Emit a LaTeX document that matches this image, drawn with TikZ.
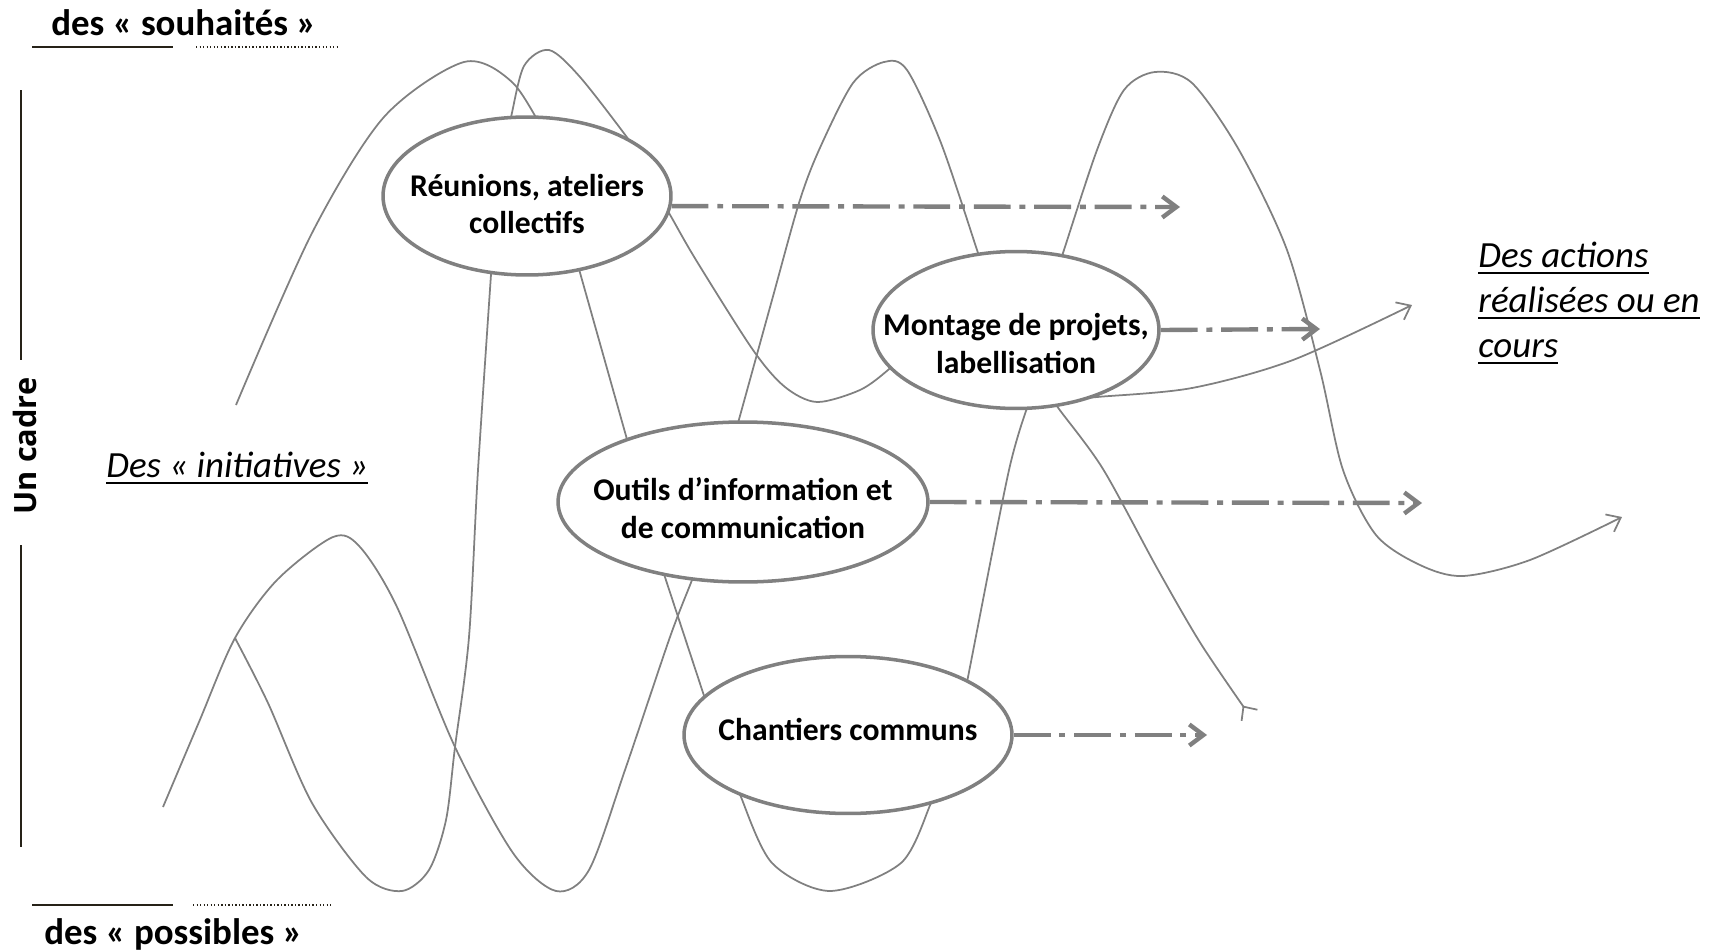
\documentclass[tikz,border=0pt]{standalone}
\usepackage{fontspec}
\setmainfont{Carlito}
\newfontfamily\cadrefont{Open Sans}
\usepackage{tikz}
\usetikzlibrary{arrows.meta, shapes.geometric, positioning}
\definecolor{linegray}{RGB}{128,128,128}
\definecolor{framedark}{RGB}{38,34,24}
\newcommand{\uldraw}[1]{\leavevmode\setbox0\hbox{#1}\rlap{\vrule width\wd0 height -2.6pt depth 3.7pt}\box0}

\begin{document}
\begin{tikzpicture}[x=0.02cm, y=-0.02cm,
  bubble/.style={ellipse, draw=linegray, line width=2pt, fill=white, inner sep=0pt},
  word/.style={align=center, inner sep=0pt, font=\bfseries\fontsize{18}{21.5}\selectfont},
  wave/.style={draw=linegray, line width=1pt},
  flow/.style={draw=linegray, line width=2.5pt, dash pattern=on 21pt off 5pt on 3.4pt off 5pt, -{Straight Barb[length=8pt, width=12pt]}},
  title/.style={font=\bfseries\fontsize{21}{24}\selectfont, anchor=base west, inner sep=0pt},
  note/.style={font=\itshape\fontsize{21}{25.5}\selectfont, anchor=base west, inner sep=0pt, align=left},
  frame/.style={draw=framedark, line width=1.3pt},
  dotline/.style={draw=framedark, line width=1pt, dash pattern=on 0.8pt off 1.2pt}]
\useasboundingbox (0,0) rectangle (1712,950);

\node[title] (wish) at (51,35) {des « souhaités »};
\node[title] (poss) at (44,944) {des « possibles »};
\draw[frame] (32,47) -- (173,47);
\draw[dotline] (196,47) -- (337,47);
\draw[frame] (32,905) -- (173,905);
\draw[dotline] (193,905) -- (333,905);
\node[font=\cadrefont\bfseries\fontsize{17.5}{20}\selectfont, rotate=90, inner sep=0pt] (cadre) at (25,446) {Un cadre};
\draw[frame] (21,90) -- (21,360);
\draw[frame] (21,545) -- (21,847);
\node[note] (init) at (106,477) {\uldraw{Des « initiatives »}};
\node[note] (done) at (1478,357) {\uldraw{Des actions}\\\uldraw{réalisées ou en}\\\uldraw{cours}};

\draw[wave] plot[smooth] coordinates {(236,405) (312,233) (384,117) (464,62) (513,83) (548,140)};
\draw[wave] plot[smooth] coordinates {(506,135) (511,117) (524,66) (549,50) (580,77) (629,140) (648,168)};
\draw[wave] plot[smooth] coordinates {(652,185) (669,213) (696,260) (753,350) (785,387) (817,402) (860,390) (888,370) (905,352)};
\draw[wave] plot[smooth] coordinates {(492,260) (478,470) (469,637) (455,747) (446,820) (429,870) (402,891) (366,877) (312,803) (268,703) (235,638)};
\draw[wave] plot[smooth] coordinates {(163,807) (199,722) (235,638) (277,580) (333,537) (360,547) (397,607) (455,747) (513,853) (556,891) (589,870) (625,770) (670,637) (692,580) (698,562)};
\draw[wave] plot[smooth] coordinates {(733,440) (738,423) (772,300) (799,203) (819,150) (853,83) (884,62) (907,70) (941,143) (978,253) (984,272)};
\draw[wave] plot[smooth] coordinates {(1030,400) (1009,470) (968,677) (963,700)};
\draw[wave] plot[smooth] coordinates {(938,785) (931,803) (901,863) (830,891) (772,863) (741,797) (737,780)};
\draw[wave] (712,720) -- (660,562);
\draw[wave] (630,450) -- (577,262);
\draw[wave, -{Straight Barb[length=7pt, width=11pt]}] plot[smooth] coordinates {(1058,268) (1063,253) (1097,150) (1124,90) (1155,72) (1192,83) (1239,150) (1287,250) (1320,370) (1343,470) (1376,535) (1420,565) (1463,576) (1530,560) (1622,517)};
\draw[wave, -{Straight Barb[reversed, length=6pt, width=11pt]}] plot[smooth] coordinates {(1050,395) (1059,409) (1103,469) (1157,568) (1201,644) (1250,716)};
\draw[wave, -{Straight Barb[length=7pt, width=11pt]}] plot[smooth] coordinates {(1080,399) (1097,397) (1192,388) (1293,360) (1412,305)};

\node[bubble, minimum width=5.76cm, minimum height=3.16cm,
  label={[word, yshift=-4.5pt]center:{Réunions, ateliers\\collectifs}}] (reu) at (527,196) {};
\node[bubble, minimum width=5.72cm, minimum height=3.14cm,
  label={[word, yshift=-7.5pt]center:{Montage de projets,\\labellisation}}] (mon) at (1016,330) {};
\node[bubble, minimum width=7.4cm, minimum height=3.2cm,
  label={[word, yshift=-3.4pt]center:{Outils d’information et\\de communication}}] (out) at (743,502) {};
\node[bubble, minimum width=6.56cm, minimum height=3.14cm,
  label={[word, yshift=3.4pt]center:{Chantiers communs}}] (cha) at (848,735) {};

\coordinate (reu-end) at (1180,207);
\coordinate (mon-end) at (1320,329);
\coordinate (out-end) at (1422,503);
\coordinate (cha-end) at (1207,735);
\draw[flow] (reu.-4) -- (reu-end);
\draw[flow] (mon.east) -- (mon-end);
\draw[flow] (out.east) -- (out-end);
\draw[flow] (cha.east) -- (cha-end);
\end{tikzpicture}
\end{document}
